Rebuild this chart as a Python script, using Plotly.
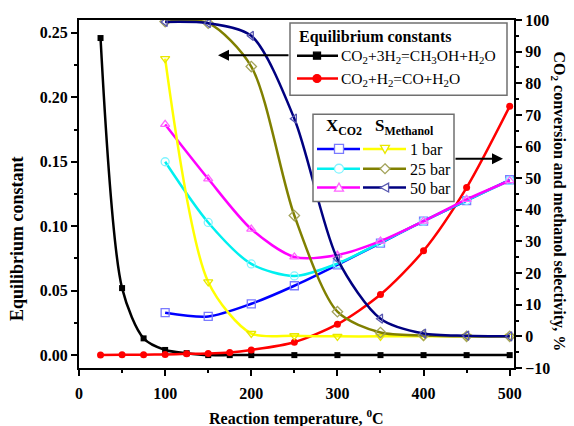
import plotly.graph_objects as go

# ---------------- data ----------------
temp_eq = [25, 50, 75, 100, 125, 150, 175, 200, 250, 300, 350, 400, 450, 500]
k_methanol = [0.246, 0.052, 0.013, 0.004, 0.0015, 0.0, 0.0, 0.0, 0.0, 0.0, 0.0, 0.0, 0.0, 0.0]
k_rwgs = [0.0001, 0.0002, 0.0003, 0.0005, 0.001, 0.0012, 0.002, 0.004, 0.010, 0.024, 0.047, 0.081, 0.130, 0.193]

temp_sel = [100, 150, 200, 250, 300, 350, 400, 450, 500]
xco2_1bar = [7.5, 6.3, 10.3, 16.0, 22.6, 29.5, 36.4, 42.9, 49.5]
xco2_25bar = [55.2, 36.0, 22.9, 19.1, 23.0, 29.6, 36.4, 43.0, 49.3]
xco2_50bar = [67.0, 49.8, 33.9, 25.1, 25.7, 30.1, 36.4, 43.3, 49.2]
smeoh_1bar = [87.8, 17.2, 0.9, 0.2, 0.0, 0.0, 0.0, 0.0, 0.0]
smeoh_25bar = [99.5, 99.0, 85.3, 38.2, 7.8, 1.2, 0.3, 0.0, 0.0]
smeoh_50bar = [99.4, 99.0, 95.0, 68.8, 24.5, 5.6, 0.9, 0.2, 0.0]

eq_names = ["CO<sub>2</sub>+3H<sub>2</sub>=CH<sub>3</sub>OH+H<sub>2</sub>O",
            "CO<sub>2</sub>+H<sub>2</sub>=CO+H<sub>2</sub>O"]
pressure_labels = ["1 bar", "25 bar", "50 bar"]

# ---------------- style / layout constants ----------------
W, H = 574, 426
L, R, T, B = 79, 514, 17, 368          # plot area in pixels
FONT = "Liberation Serif, Times New Roman, serif"


def px(x):
    return (x - L) / (R - L)


def py(y):
    return (B - y) / (B - T)


fig = go.Figure()

# equilibrium constants (left axis)
fig.add_trace(go.Scatter(x=temp_eq, y=k_methanol, mode="lines+markers", yaxis="y",
                         line=dict(color="black", width=2.5, shape="spline", smoothing=0.8),
                         marker=dict(symbol="square", size=6, color="black"), name=eq_names[0]))
fig.add_trace(go.Scatter(x=temp_eq, y=k_rwgs, mode="lines+markers", yaxis="y",
                         line=dict(color="#ff0000", width=2.5, shape="spline", smoothing=0.8),
                         marker=dict(symbol="circle", size=7, color="#ff0000"), name=eq_names[1]))

sel_series = [
    (xco2_1bar, "#0000ff", "#7a7aff", "square-open", "square"),
    (xco2_25bar, "#00f0f0", "#80f4ff", "circle-open", "circle"),
    (xco2_50bar, "#ff00ff", "#ff66ff", "triangle-up-open", "up"),
    (smeoh_1bar, "#ffff00", "#e8e800", "triangle-down-open", "down"),
    (smeoh_25bar, "#808000", "#a3a35a", "diamond-open", "diamond"),
    (smeoh_50bar, "#000080", "#5858b0", "triangle-left-open", "left"),
]
for vals, lc, mc, sym, _ in sel_series:
    fig.add_trace(go.Scatter(x=temp_sel, y=vals, mode="lines+markers", yaxis="y2",
                             line=dict(color=lc, width=2.5, shape="spline", smoothing=0.8),
                             marker=dict(symbol=sym, size=8, color=mc, line=dict(width=1.3))))

shapes = []
annotations = []


def marker_shape(kind, cx, cy, s, color, filled=False):
    h = s / 2.0
    fill = color if filled else "white"
    base = dict(xref="paper", yref="paper", layer="above", fillcolor=fill,
                line=dict(color=color, width=1.3))
    if kind == "square":
        return dict(type="rect", x0=px(cx - h), x1=px(cx + h), y0=py(cy - h), y1=py(cy + h), **base)
    if kind == "circle":
        return dict(type="circle", x0=px(cx - h), x1=px(cx + h), y0=py(cy - h), y1=py(cy + h), **base)
    if kind == "up":
        pts = [(cx, cy - h), (cx + h, cy + h * 0.8), (cx - h, cy + h * 0.8)]
    elif kind == "down":
        pts = [(cx, cy + h), (cx + h, cy - h * 0.8), (cx - h, cy - h * 0.8)]
    elif kind == "left":
        pts = [(cx - h, cy), (cx + h * 0.8, cy - h), (cx + h * 0.8, cy + h)]
    else:  # diamond
        pts = [(cx, cy - h * 1.1), (cx + h * 1.1, cy), (cx, cy + h * 1.1), (cx - h * 1.1, cy)]
    path = "M " + " L ".join(f"{px(a):.5f},{py(b):.5f}" for a, b in pts) + " Z"
    return dict(type="path", path=path, **base)


def seg(x0, x1, y, color):
    return dict(type="line", xref="paper", yref="paper", layer="above",
                x0=px(x0), x1=px(x1), y0=py(y), y1=py(y), line=dict(color=color, width=2.5))


def text(x, y, s, size=16, bold=False, anchor="left"):
    annotations.append(dict(x=px(x), y=py(y), xref="paper", yref="paper", text=s, showarrow=False,
                            xanchor=anchor, yanchor="middle",
                            font=dict(family=FONT, size=size, color="black",
                                      weight="bold" if bold else "normal")))


# ---- legend 1: equilibrium constants ----
shapes.append(dict(type="rect", xref="paper", yref="paper", layer="above",
                   x0=px(290), x1=px(507), y0=py(20), y1=py(93), fillcolor="white",
                   line=dict(color="#707070", width=1.5)))
text(297, 34, "Equilibrium constants", 16, True)
shapes.append(seg(297, 338, 53, "black"))
shapes.append(marker_shape("square", 317, 53, 7, "black", filled=True))
text(339, 54, eq_names[0], 15.5)
shapes.append(seg(297, 338, 76, "#ff0000"))
shapes.append(marker_shape("circle", 317, 76, 8, "#ff0000", filled=True))
text(339, 77, eq_names[1], 15.5)

# ---- legend 2: conversion / selectivity ----
shapes.append(dict(type="rect", xref="paper", yref="paper", layer="above",
                   x0=px(313), x1=px(454), y0=py(112), y1=py(200), fillcolor="white",
                   line=dict(color="#707070", width=1.5)))
text(344, 125, "X<sub>CO2</sub>", 17, True, "center")
text(373, 125, "S<sub>Methanol</sub>", 17, True, "left")
rows_y = [147, 167, 186]
for i, ry in enumerate(rows_y):
    _, lc, mc, _, kind = sel_series[i]
    shapes.append(seg(317, 360, ry, lc))
    shapes.append(marker_shape(kind, 339, ry, 9, mc))
    _, lc2, mc2, _, kind2 = sel_series[i + 3]
    shapes.append(seg(363, 406, ry, lc2))
    shapes.append(marker_shape(kind2, 385, ry, 9, mc2))
    text(408, ry + 1, pressure_labels[i], 16)

# ---- arrows ----
for hx, tx, ay in [(218, 290, 52.5), (503, 454, 157)]:
    annotations.append(dict(x=px(hx), y=py(ay), xref="paper", yref="paper", text="",
                            showarrow=True, ax=tx - hx, ay=0, arrowhead=2, arrowsize=1.1,
                            arrowwidth=2, arrowcolor="black"))

# ---- axis titles ----
text(296, 418, "Reaction temperature, <sup>0</sup>C", 16, True, "center")
annotations.append(dict(x=px(17), y=py(238), xref="paper", yref="paper", showarrow=False,
                        text="Equilibrium constant", textangle=-90, xanchor="center", yanchor="middle",
                        font=dict(family=FONT, size=18, color="black", weight="bold")))
annotations.append(dict(x=px(559), y=py(200), xref="paper", yref="paper", showarrow=False,
                        text="CO<sub>2</sub> conversion and methanol selectivity, %", textangle=90,
                        xanchor="center", yanchor="middle",
                        font=dict(family=FONT, size=16, color="black", weight="bold")))

axis_common = dict(showgrid=False, zeroline=False, showline=True, linecolor="black", linewidth=2,
                   ticks="outside", tickcolor="black", tickwidth=2, ticklen=6,
                   tickfont=dict(family=FONT, size=16, color="black", weight="bold"))

fig.update_layout(
    width=W, height=H,
    margin=dict(l=L, r=W - R, t=T, b=H - B),
    paper_bgcolor="white", plot_bgcolor="white", showlegend=False,
    font=dict(family=FONT, size=16, color="black"),
    xaxis=dict(range=[0, 505], tick0=0, dtick=100, mirror=True,
               minor=dict(dtick=50, ticks="outside", ticklen=3, tickwidth=2, tickcolor="black"),
               ticklabelstandoff=4, **axis_common),
    yaxis=dict(range=[-0.01, 0.26], tick0=0, dtick=0.05, tickformat=".2f",
               minor=dict(dtick=0.025, ticks="outside", ticklen=3, tickwidth=2, tickcolor="black"),
               **axis_common),
    yaxis2=dict(range=[-10, 100], tick0=0, dtick=10, overlaying="y", side="right",
                minor=dict(dtick=5, ticks="outside", ticklen=3, tickwidth=2, tickcolor="black"),
                **axis_common),
    shapes=shapes,
    annotations=annotations,
)

fig.write_html("out.html", config={"displayModeBar": False},
               post_script="document.body.style.margin='0px';document.body.style.overflow='hidden';")
